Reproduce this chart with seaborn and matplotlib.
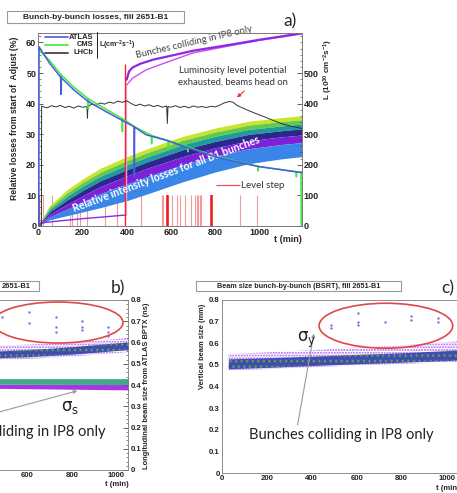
import matplotlib
matplotlib.use("Agg")
import matplotlib.pyplot as plt
from matplotlib.patches import Ellipse, Rectangle
from matplotlib.lines import Line2D
from matplotlib.ticker import MultipleLocator
import seaborn as sns

# ---------- panel a: bunch-by-bunch losses (%) ----------
BAND_T = [0, 50, 130, 200, 280, 400, 500, 650, 800, 950, 1100, 1190]
B_TOP = [0, 6.6, 11.8, 15.3, 18.8, 22.6, 25.4, 29.2, 32.0, 34.2, 35.4, 36.0]
B_1 = [0, 5.9, 10.7, 14.1, 17.5, 21.3, 24.1, 27.9, 30.7, 32.9, 34.1, 34.7]
B_2 = [0, 5.2, 9.6, 12.9, 16.2, 19.9, 22.7, 26.5, 29.3, 31.5, 32.7, 33.3]
B_3 = [0, 4.4, 8.4, 11.5, 14.7, 18.3, 21.1, 24.8, 27.6, 29.9, 31.1, 31.7]
B_4 = [0, 3.6, 7.0, 9.8, 12.8, 16.3, 19.0, 22.6, 25.5, 27.8, 29.1, 29.7]
B_5 = [0, 2.8, 5.4, 7.8, 10.5, 13.7, 16.3, 19.9, 22.8, 25.2, 26.6, 27.2]
B_BOT = [0, 1.9, 3.3, 4.5, 5.9, 8.2, 10.6, 14.3, 17.6, 20.3, 21.9, 22.6]

IP8_T = [399, 410, 426, 460, 520, 590, 700, 887, 1000, 1100, 1188]
IP8_V = [47.8, 50.5, 51.8, 53.0, 54.4, 55.5, 57.3, 59.5, 60.9, 62.0, 63.0]
IP8B_T = [399, 426, 486, 591, 700, 887, 1000, 1100, 1188]
IP8B_V = [46.1, 48.3, 51.0, 53.8, 56.6, 59.2, 60.7, 61.8, 62.8]
IP8_EARLY_T = [0, 10, 100, 200, 300, 396]
IP8_EARLY_V = [0, 0.9, 1.6, 2.3, 2.9, 3.5]

LEVEL_T = [4, 10, 22, 60, 143, 150, 176, 188, 221, 301, 354, 463, 557, 564,
           602, 625, 640, 662, 692, 707, 715, 722, 730, 737, 910, 990]
LEVEL_DARK_T = [2, 582, 587, 778, 783]
LEVEL_H = 10
ADJUST_T = 390
ADJUST_H = 53

# luminosity, 1e30 cm^-2 s^-1 (right axis)
ATLAS_T = [0, 2, 3, 50, 101, 102, 103, 160, 223, 300, 381, 433, 434, 435,
           486, 590, 676, 811, 992, 1188]
ATLAS_L = [0, 0, 586, 533, 486, 430, 485, 445, 408, 376, 344, 324, 160, 323,
           298, 277, 255, 223, 194, 174]
CMS_T = [0, 1, 2, 50, 103, 104, 105, 160, 225, 226, 227, 300, 379, 380, 381,
         440, 511, 512, 513, 587, 588, 589, 676, 677, 678, 811, 992, 993, 994,
         1165, 1166, 1167, 1187, 1188]
CMS_L = [0, 0, 576, 542, 494, 438, 493, 454, 416, 382, 415, 384, 351, 308, 350,
         322, 296, 268, 295, 279, 256, 278, 258, 242, 257, 225, 195, 179, 194,
         177, 160, 176, 175, 0]
LHCB_T = [0, 14, 15, 20, 40, 60, 80, 100, 120, 140, 160, 180, 200, 220, 222,
          224, 240, 260, 280, 300, 320, 340, 360, 380, 400, 420, 440, 460, 480,
          500, 520, 540, 560, 580, 583, 586, 600, 620, 640, 660, 680, 700, 720,
          740, 760, 780, 800, 820, 840, 864, 880, 900, 940, 980, 1020, 1060,
          1100, 1140, 1188]
LHCB_L = [0, 0, 392, 390, 386, 393, 389, 394, 387, 391, 385, 392, 388, 390,
          352, 389, 398, 394, 402, 398, 405, 401, 408, 404, 409, 400, 393, 398,
          392, 396, 390, 394, 388, 392, 335, 390, 388, 393, 387, 391, 386, 392,
          388, 390, 387, 391, 389, 395, 402, 407, 404, 393, 380, 368, 357, 345,
          334, 326, 319]

# ---------- panel b: longitudinal size (ns) ----------
BC_T = [460, 600, 800, 1000, 1055]
BC_FRINGE_TOP = [0.585, 0.590, 0.600, 0.617, 0.622]
BC_CORE_TOP = [0.560, 0.566, 0.580, 0.598, 0.603]
BC_CORE_BOT = [0.528, 0.533, 0.545, 0.562, 0.567]
BC_FRINGE_BOT = [0.518, 0.522, 0.534, 0.550, 0.555]
BL_T = [400, 1055]
BL_TOP = [0.430, 0.430]
BL_MID = [0.404, 0.402]
BL_BOT = [0.385, 0.377]
B_OUT_T = [483, 607, 607, 727, 727, 727, 845, 845, 845, 964, 964, 964]
B_OUT_V = [0.72, 0.743, 0.69, 0.72, 0.675, 0.65, 0.70, 0.675, 0.66, 0.675, 0.65, 0.63]

# ---------- panel c: vertical size (mm) ----------
C_T = [30, 200, 400, 600, 800, 1000, 1060]
C_FRINGE_TOP = [0.550, 0.558, 0.568, 0.580, 0.590, 0.605, 0.610]
C_CORE_TOP = [0.528, 0.533, 0.540, 0.548, 0.556, 0.566, 0.570]
C_CORE_BOT = [0.482, 0.488, 0.497, 0.505, 0.512, 0.520, 0.523]
C_FRINGE_BOT = [0.475, 0.480, 0.489, 0.497, 0.504, 0.511, 0.514]
C_OUT_T = [487, 487, 606, 606, 606, 725, 843, 843, 962, 962]
C_OUT_V = [0.683, 0.670, 0.739, 0.700, 0.685, 0.700, 0.724, 0.708, 0.716, 0.700]

sns.set_theme(style="white")
plt.rcParams["font.family"] = ["Liberation Sans", "DejaVu Sans"]
plt.rcParams["font.weight"] = "bold"
plt.rcParams["axes.linewidth"] = 0.6
plt.rcParams["mathtext.default"] = "regular"
ANN = ["Lato", "DejaVu Sans"]
SIG = ["DejaVu Sans"]

W, H = 457, 493
fig = plt.figure(figsize=(W / 100, H / 100), dpi=100)


def box(l, t, r, b):
    return [l / W, 1 - b / H, (r - l) / W, (b - t) / H]


def fxy(x, y):
    return x / W, 1 - y / H


def title_box(l, t, r, b, text, tx, ha, size):
    fig.add_artist(Rectangle((l / W, 1 - b / H), (r - l) / W, (b - t) / H,
                             transform=fig.transFigure, fc="white", ec="#9a9a9a", lw=0.8))
    fig.text(*fxy(tx, (t + b) / 2), text, ha=ha, va="center", fontsize=size)


def root_axis(ax, size):
    for s in ax.spines.values():
        s.set_color("#7a7a7a")
        s.set_linewidth(0.6)
    ax.tick_params(which="major", direction="in", length=3.5, width=0.5, pad=1.5,
                   colors="#222222", labelsize=size)
    ax.tick_params(which="minor", direction="in", length=1.8, width=0.4)
    ax.set_xlabel("")
    ax.set_ylabel("")


def line(ax, x, y, color, lw, z=3):
    sns.lineplot(x=x, y=y, ax=ax, color=color, lw=lw, sort=False,
                 estimator=None, legend=False, zorder=z)


# ======== panel a ========
ax = fig.add_axes(box(38.3, 33.3, 301.7, 225.7))
ax.vlines(LEVEL_T, 0, LEVEL_H, color="#f59a9a", lw=0.8, zorder=1)
ax.vlines(LEVEL_DARK_T, 0, LEVEL_H, color="#ee1010", lw=1.1, zorder=1)
layers = [(B_1, B_TOP, "#c6e52f"), (B_2, B_1, "#63c84b"), (B_3, B_2, "#1d9c9a"),
          (B_4, B_3, "#2c2690"), (B_5, B_4, "#7b22d8"), (B_BOT, B_5, "#3a86e8")]
for lo, hi, c in layers:
    ax.fill_between(BAND_T, lo, hi, color=c, lw=0, zorder=2)
ax.vlines([ADJUST_T], 0, ADJUST_H, color="#ff2020", lw=1.0, zorder=4)
ax.vlines([IP8_EARLY_T[-1]], IP8_EARLY_V[-1], IP8B_V[0], color="#dcb8f4", lw=1.0, zorder=3)
line(ax, IP8_EARLY_T, IP8_EARLY_V, "#8a2be2", 1.0)
line(ax, IP8B_T, IP8B_V, "#d24af2", 1.0)
line(ax, IP8_T, IP8_V, "#8a2be2", 1.6)
ax.set_xlim(0, 1190)
ax.set_ylim(0, 63)
ax.xaxis.set_major_locator(MultipleLocator(200))
ax.xaxis.set_minor_locator(MultipleLocator(50))
ax.yaxis.set_major_locator(MultipleLocator(10))
ax.yaxis.set_minor_locator(MultipleLocator(2))
root_axis(ax, 6.5)
ax.hlines([13.2], 805, 911, color="#f05050", lw=0.9)
ax.text(915, 13.2, "Level step", fontsize=7, family=ANN, fontweight="normal",
        color="#333333", va="center")
ax.text(576, 17.0, "Relative intensity losses for all B1 bunches", rotation=20.5,
        fontsize=7.6, family=ANN, color="white", ha="center", va="center", zorder=6)
ax.text(705, 60.2, "Bunches colliding in IP8 only", rotation=13, fontsize=6.8,
        family=ANN, fontweight="normal", color="#444444", ha="center", va="center")
ax.text(880, 48.8, "Luminosity level potential\nexhausted, beams head on", fontsize=6.8,
        family=ANN, fontweight="normal", color="#333333", ha="center", va="center",
        linespacing=1.35)

axr = ax.twinx()
line(axr, LHCB_T, LHCB_L, "#333333", 0.7)
line(axr, CMS_T, CMS_L, "#3ee83e", 1.1)
line(axr, ATLAS_T, ATLAS_L, "#4a5ae0", 1.1)
axr.set_ylim(0, 630)
axr.yaxis.set_major_locator(MultipleLocator(100))
axr.yaxis.set_minor_locator(MultipleLocator(20))
root_axis(axr, 6.5)
axr.set_yticks([0, 100, 200, 300, 400, 500])
axr.annotate("", xy=(888, 414), xytext=(940, 447),
             arrowprops=dict(arrowstyle="-|>", color="#f03030", lw=0.8, mutation_scale=5))

# legend drawn ROOT-style: sample line, right-aligned name, bracket
for i, (name, c) in enumerate([("ATLAS", "#4a5ae0"), ("CMS", "#3ee83e"), ("LHCb", "#333333")]):
    yy = 37.3 + 7.7 * i
    fig.add_artist(Line2D([45 / W, 68 / W], [1 - yy / H] * 2, color=c, lw=1.2))
    fig.text(*fxy(93.5, yy), name, ha="right", va="center", fontsize=5.4)
fig.add_artist(Line2D([96.7 / W] * 2, [1 - 32 / H, 1 - 58 / H], color="#222222", lw=0.7))
fig.text(*fxy(99, 45), r"L(cm$^{-2}$s$^{-1}$)", fontsize=5.0, va="center")

fig.text(*fxy(15, 118), "Relative losses from start of  Adjust (%)", rotation=90,
         ha="center", va="center", fontsize=6.2)
fig.text(*fxy(328, 70), r"L (10$^{30}$ cm$^{-2}$s$^{-1}$)", rotation=90,
         ha="center", va="center", fontsize=5.8)
fig.text(*fxy(288, 240), "t (min)", ha="center", va="center", fontsize=6.5)
title_box(7, 11, 184, 23.3, "Bunch-by-bunch losses, fill 2651-B1", 95.5, "center", 6.0)
fig.text(*fxy(290, 21), "a)", fontsize=12.5, family=ANN, fontweight="normal",
         ha="center", va="center")

# ======== panel b ========
axb = fig.add_axes(box(-105.5, 300, 128.3, 470))
axb.fill_between(BL_T, BL_BOT, BL_MID, color="#a020e0", lw=0, alpha=0.9)
axb.fill_between(BL_T, BL_MID, BL_TOP, color="#2aa27a", lw=0, alpha=0.9)
axb.fill_between(BC_T, BC_FRINGE_BOT, BC_FRINGE_TOP, facecolor="none",
                 edgecolor="#b060f0", hatch="......", lw=0)
axb.fill_between(BC_T, BC_CORE_BOT, BC_CORE_TOP, color="#2f40a8", lw=0, alpha=0.9)
axb.fill_between(BC_T, BC_CORE_BOT, BC_CORE_TOP, facecolor="none",
                 edgecolor="#5aa050", hatch="...", lw=0)
sns.scatterplot(x=B_OUT_T, y=B_OUT_V, ax=axb, s=3, color="#8a6ae8", linewidth=0, legend=False)
axb.add_patch(Ellipse((738, 0.694), 586, 0.193, fc="none", ec="#e04848", lw=1.2))
axb.annotate("", xy=(837, 0.376), xytext=(440, 0.264),
             arrowprops=dict(arrowstyle="-|>", color="#9a9a9a", lw=0.8, mutation_scale=5))
axb.text(792, 0.297, r"σ$_{s}$", fontsize=12, family=SIG, fontweight="normal",
         ha="center", va="center", color="#222222")
axb.text(950, 0.179, "Bunches colliding in IP8 only", fontsize=10.5, family=ANN,
         fontweight="normal", ha="right", va="center", color="#222222")
axb.set_xlim(0, 1055)
axb.set_ylim(0, 0.8)
axb.yaxis.tick_right()
axb.xaxis.set_major_locator(MultipleLocator(200))
axb.xaxis.set_minor_locator(MultipleLocator(50))
axb.yaxis.set_major_locator(MultipleLocator(0.1))
axb.yaxis.set_minor_locator(MultipleLocator(0.02))
root_axis(axb, 5.6)
axb.set_yticks([0, 0.1, 0.2, 0.3, 0.4, 0.5, 0.6, 0.7, 0.8],
               ["0", "0.1", "0.2", "0.3", "0.4", "0.5", "0.6", "0.7", "0.8"])
fig.text(*fxy(147, 386), "Longitudinal beam size from ATLAS BPTX (ns)", rotation=90,
         ha="center", va="center", fontsize=5.4)
fig.text(*fxy(117, 484), "t (min)", ha="center", va="center", fontsize=5.6)
title_box(-20, 281, 39, 291.3, "2651-B1", 2, "left", 5.4)
fig.text(*fxy(118, 288), "b)", fontsize=12.5, family=ANN, fontweight="normal",
         ha="center", va="center")

# ======== panel c ========
axc = fig.add_axes(box(221.7, 300, 459, 473))
axc.fill_between(C_T, C_FRINGE_BOT, C_FRINGE_TOP, facecolor="none",
                 edgecolor="#b060f0", hatch="......", lw=0)
axc.fill_between(C_T, C_CORE_BOT, C_CORE_TOP, color="#2f40a8", lw=0, alpha=0.9)
axc.fill_between(C_T, C_CORE_BOT, C_CORE_TOP, facecolor="none",
                 edgecolor="#5aa050", hatch="...", lw=0)
sns.scatterplot(x=C_OUT_T, y=C_OUT_V, ax=axc, s=3, color="#8a6ae8", linewidth=0, legend=False)
axc.add_patch(Ellipse((730, 0.681), 594, 0.208, fc="none", ec="#e04848", lw=1.2))
axc.annotate("", xy=(412, 0.657), xytext=(335, 0.21),
             arrowprops=dict(arrowstyle="-|>", color="#9a9a9a", lw=0.8, mutation_scale=5))
axc.text(378, 0.616, r"σ$_{y}$", fontsize=12, family=SIG, fontweight="normal",
         ha="center", va="center", color="#222222")
axc.text(532, 0.176, "Bunches colliding in IP8 only", fontsize=10.5, family=ANN,
         fontweight="normal", ha="center", va="center", color="#222222")
axc.set_xlim(0, 1055)
axc.set_ylim(0, 0.8)
axc.xaxis.set_major_locator(MultipleLocator(200))
axc.xaxis.set_minor_locator(MultipleLocator(50))
axc.yaxis.set_major_locator(MultipleLocator(0.1))
axc.yaxis.set_minor_locator(MultipleLocator(0.02))
root_axis(axc, 5.6)
axc.set_yticks([0, 0.1, 0.2, 0.3, 0.4, 0.5, 0.6, 0.7, 0.8],
               ["0", "0.1", "0.2", "0.3", "0.4", "0.5", "0.6", "0.7", "0.8"])
fig.text(*fxy(202, 346), "Vertical beam size (mm)", rotation=90,
         ha="center", va="center", fontsize=5.4)
fig.text(*fxy(448, 488), "t (min)", ha="center", va="center", fontsize=5.6)
title_box(196, 281, 401, 291.3, "Beam size bunch-by-bunch (BSRT), fill 2651-B1", 298.5,
          "center", 5.2)
fig.text(*fxy(448, 288), "c)", fontsize=12.5, family=ANN, fontweight="normal",
         ha="center", va="center")

fig.savefig("out.png", dpi=100)
